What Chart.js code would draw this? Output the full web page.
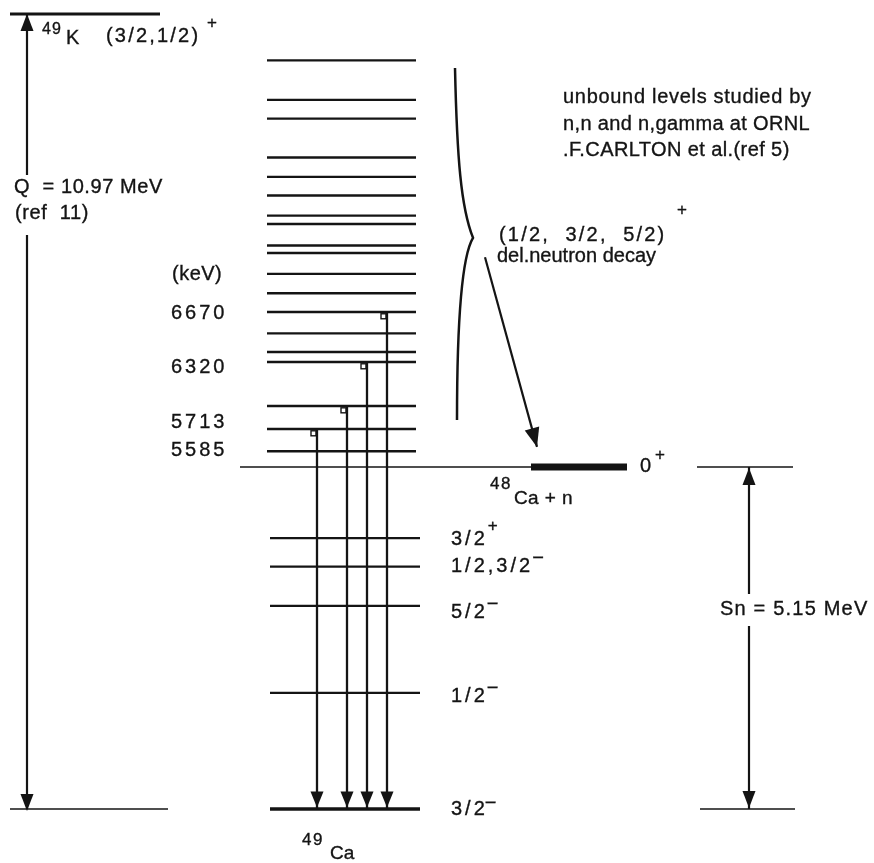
<!DOCTYPE html>
<html>
<head>
<meta charset="utf-8">
<title>49K delayed-neutron decay to 49Ca</title>
<script src="https://cdn.jsdelivr.net/npm/chart.js@4.4.1/dist/chart.umd.min.js"></script>
<style>
html,body{margin:0;padding:0;background:#fff;}
canvas{display:block;}
</style>
</head>
<body>
<canvas id="scheme" width="874" height="863"></canvas>
<script>
// ---------------- level data (keV) ----------------
const qValueKeV = 10970;              // 49K ground state, measured from 49Ca g.s.
const neutronSeparationKeV = 5150;    // 48Ca + n threshold
const groundStateKeV = 0;
const unboundLevelsKeV = [10300, 9730, 9460, 8900, 8620, 8350, 8060, 7940, 7630, 7520,
                          7220, 6940, 6670, 6520, 6390, 6320, 5713, 5585, 5330];
const gammaLevelsKeV = [5585, 5713, 6320, 6670];
const gammaLabels = ["5585", "5713", "6320", "6670"];
const boundLevelsKeV = [4080, 3650, 3060, 1750];
const boundSpins = ["3/2", "1/2,3/2", "5/2", "1/2"];
const boundParities = ["+", "−", "−", "−"];
const groundSpin = "3/2";
const groundParity = "−";

// ---------------- schematic energy axis ----------------
// the drawing is not to scale: energy is mapped piecewise onto a drawn height
const axisBreaks = {
  keV:    [0, 5150, 5585, 5713, 6320, 6670, 10970],
  height: [0, 0.4302, 0.4780, 0.5069, 0.5623, 0.6252, 1]
};

class EnergyBreakScale extends Chart.LinearScale {
  static id = 'energyBreak';
  static defaults = Chart.LinearScale.defaults;
  toHeight(e) {
    const k = axisBreaks.keV, h = axisBreaks.height, n = k.length - 1;
    let i = 1;
    while (i < n && e > k[i]) i++;
    return h[i - 1] + (e - k[i - 1]) * (h[i] - h[i - 1]) / (k[i] - k[i - 1]);
  }
  getPixelForValue(v) {
    return v === null ? NaN : super.getPixelForValue(this.toHeight(v));
  }
}
Chart.register(EnergyBreakScale);

// ---------------- drawing layout ----------------
const INK = '#141414';
const FONT = '"Liberation Sans", Arial, Helvetica, sans-serif';
const geom = {
  parentLine: [10, 160],
  qArrowX: 27,
  qBaseLine: [10, 168],
  unboundX: [267, 416],
  boundX: [270, 420],
  thresholdThin: [240, 531],
  thresholdBar: [531, 627],
  snTop: [697, 793],
  snBottom: [700, 795],
  snArrowX: 749,
  gammaX: [317, 347, 367, 387],
  dnArrowX: [485, 537],
  dnArrowKeV: [7460, 5380],
  braceX: [455, 473],
  braceKeV: [10190, 7740, 5635]
};

function seg(x0, x1, e0, e1, width) {
  return {
    data: [{ x: x0, y: e0 }, { x: x1, y: e1 }],
    showLine: true, borderColor: INK, borderWidth: width,
    pointRadius: 0, borderCapStyle: 'butt', fill: false
  };
}

const datasets = [];
datasets.push(seg(geom.parentLine[0], geom.parentLine[1], qValueKeV, qValueKeV, 2.8));
datasets.push(seg(geom.qArrowX, geom.qArrowX, qValueKeV, groundStateKeV, 2.2));
datasets.push(seg(geom.qBaseLine[0], geom.qBaseLine[1], groundStateKeV, groundStateKeV, 1.5));
unboundLevelsKeV.forEach(e => datasets.push(seg(geom.unboundX[0], geom.unboundX[1], e, e, 2.4)));
boundLevelsKeV.forEach(e => datasets.push(seg(geom.boundX[0], geom.boundX[1], e, e, 2.3)));
datasets.push(seg(geom.boundX[0], geom.boundX[1], groundStateKeV, groundStateKeV, 3.6));
datasets.push(seg(geom.thresholdThin[0], geom.thresholdThin[1], neutronSeparationKeV, neutronSeparationKeV, 1.5));
datasets.push(seg(geom.thresholdBar[0], geom.thresholdBar[1], neutronSeparationKeV, neutronSeparationKeV, 7));
datasets.push(seg(geom.snTop[0], geom.snTop[1], neutronSeparationKeV, neutronSeparationKeV, 1.5));
datasets.push(seg(geom.snBottom[0], geom.snBottom[1], groundStateKeV, groundStateKeV, 1.5));
datasets.push(seg(geom.snArrowX, geom.snArrowX, neutronSeparationKeV, groundStateKeV, 2.2));
gammaLevelsKeV.forEach((e, i) => datasets.push(seg(geom.gammaX[i], geom.gammaX[i], e, groundStateKeV, 2.3)));
datasets.push(seg(geom.dnArrowX[0], geom.dnArrowX[1], geom.dnArrowKeV[0], geom.dnArrowKeV[1], 2.2));

// ---------------- decorations: arrowheads, brace, text ----------------
function head(ctx, tx, ty, ux, uy, len, half) {
  const bx = tx - ux * len, by = ty - uy * len;
  ctx.beginPath();
  ctx.moveTo(tx, ty);
  ctx.lineTo(bx - uy * half, by + ux * half);
  ctx.lineTo(bx + uy * half, by - ux * half);
  ctx.closePath();
  ctx.fill();
}

// printed labels: a thin outline gives the heavier look of the typeset text
function text(ctx, s, x, y, size, spacing) {
  ctx.font = size + 'px ' + FONT;
  ctx.letterSpacing = (spacing || 0) + 'px';
  ctx.lineWidth = 0.35;
  ctx.fillText(s, x, y);
  ctx.strokeText(s, x, y);
  const w = ctx.measureText(s).width;
  ctx.letterSpacing = '0px';
  return x + w;
}

const decor = {
  id: 'schemeDecor',
  afterDatasetsDraw(chart) {
    const ctx = chart.ctx;
    const X = v => chart.scales.x.getPixelForValue(v);
    const Y = v => chart.scales.y.getPixelForValue(v);
    ctx.save();
    ctx.fillStyle = INK;
    ctx.strokeStyle = INK;

    // Q arrow heads
    head(ctx, X(geom.qArrowX), Y(qValueKeV), 0, -1, 17, 6.5);
    head(ctx, X(geom.qArrowX), Y(groundStateKeV) + 2, 0, 1, 17, 6.5);
    // Sn arrow heads
    head(ctx, X(geom.snArrowX), Y(neutronSeparationKeV) + 1, 0, -1, 17, 6.5);
    head(ctx, X(geom.snArrowX), Y(groundStateKeV) - 1, 0, 1, 17, 6.5);
    // gamma arrow heads and start hooks
    gammaLevelsKeV.forEach((e, i) => {
      const gx = X(geom.gammaX[i]);
      head(ctx, gx, Y(groundStateKeV) - 1.5, 0, 1, 16, 6.5);
      ctx.lineWidth = 1.4;
      ctx.strokeRect(gx - 6, Y(e) + 1.8, 5, 5);
    });
    // delayed neutron arrow head
    {
      const x0 = X(geom.dnArrowX[0]), y0 = Y(geom.dnArrowKeV[0]);
      const x1 = X(geom.dnArrowX[1]), y1 = Y(geom.dnArrowKeV[1]);
      const L = Math.hypot(x1 - x0, y1 - y0);
      head(ctx, x1, y1, (x1 - x0) / L, (y1 - y0) / L, 19, 7.5);
    }
    // curly brace over the unbound levels
    {
      const bx = X(geom.braceX[0]), tx = X(geom.braceX[1]);
      const yt = Y(geom.braceKeV[0]), yc = Y(geom.braceKeV[1]), yb = Y(geom.braceKeV[2]);
      ctx.lineWidth = 2.5;
      ctx.beginPath();
      ctx.moveTo(bx, yt);
      ctx.bezierCurveTo(bx + 2, yt + 90, bx + 6, yc - 30, tx, yc);
      ctx.bezierCurveTo(bx + 6, yc + 20, bx + 2, yc + 90, bx + 2, yb);
      ctx.stroke();
    }

    // gaps in the Q and Sn arrows behind their labels
    ctx.fillStyle = '#fff';
    ctx.fillRect(X(geom.qArrowX) - 4, 175, 8, 60);
    ctx.fillRect(X(geom.snArrowX) - 4, 594, 8, 32);
    ctx.fillStyle = INK;

    ctx.textBaseline = 'middle';
    ctx.textAlign = 'left';

    // parent state
    text(ctx, '49', 42, 30, 16, 1);
    text(ctx, 'K', 66, 38, 20, 0);
    text(ctx, '(3/2,1/2)', 106, 36, 20, 2.2);
    text(ctx, '+', 207, 23, 17, 0);
    text(ctx, 'Q  = 10.97 MeV', 14, 187, 20, 0.6);
    text(ctx, '(ref  11)', 15, 213, 20, 0.6);

    // level energies of the gamma-emitting states
    text(ctx, '(keV)', 172, 274, 20, 0.5);
    const labelY = [450, 422, 367, 313];
    gammaLabels.forEach((s, i) => text(ctx, s, 171, labelY[i], 20, 3));

    // annotation of the unbound region
    text(ctx, 'unbound levels studied by', 563, 97, 20, 0.7);
    text(ctx, 'n,n and n,gamma at ORNL', 563, 124, 20, 0.35);
    text(ctx, '.F.CARLTON et al.(ref 5)', 563, 150, 20, 0.4);
    text(ctx, '(1/2,  3/2,  5/2)', 499, 235, 20, 2.2);
    text(ctx, '+', 677, 210, 17, 0);
    text(ctx, 'del.neutron decay', 497, 256, 20, 0);

    // neutron threshold
    text(ctx, '0', 640, 466, 20, 0);
    text(ctx, '+', 655, 455, 17, 0);
    text(ctx, '48', 490, 484, 17, 1.5);
    text(ctx, 'Ca + n', 514, 499, 19, 0.4);

    // spins and parities of the bound states
    const spinY = [539, 566, 612, 696];
    boundSpins.forEach((s, i) => {
      const end = text(ctx, s, 451, spinY[i], 20, 3);
      if (boundParities[i] === '+') text(ctx, '+', end, spinY[i] - 13, 17, 0);
      else text(ctx, '−', end - 1, spinY[i] - 8, 20, 0);
    });
    {
      const yg = Y(groundStateKeV);
      const end = text(ctx, groundSpin, 451, yg, 20, 3);
      text(ctx, groundParity, end - 3, yg - 6, 20, 0);
    }
    text(ctx, '49', 302, 840, 17, 1.5);
    text(ctx, 'Ca', 330, 854, 19, 0);

    // neutron separation energy
    text(ctx, 'Sn = 5.15 MeV', 720, 609, 20, 1.2);

    ctx.restore();
  }
};

new Chart(document.getElementById('scheme'), {
  type: 'scatter',
  data: { datasets },
  options: {
    responsive: false,
    animation: false,
    devicePixelRatio: 1,
    events: [],
    layout: { padding: 0 },
    plugins: { legend: { display: false }, tooltip: { enabled: false } },
    scales: {
      x: { type: 'linear', min: 0, max: 874, display: false },
      y: { type: 'energyBreak', min: -0.0679, max: 1.0176, display: false }
    }
  },
  plugins: [decor]
});
</script>
</body>
</html>
